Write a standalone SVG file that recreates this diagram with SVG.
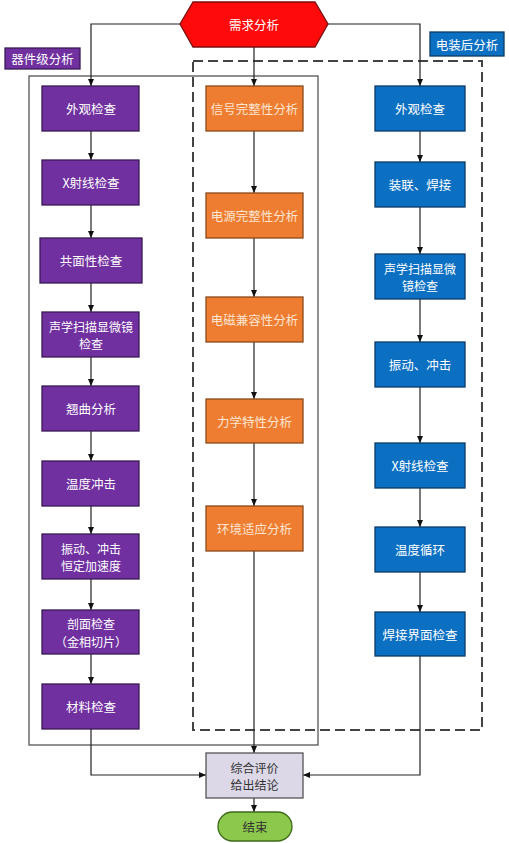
<svg xmlns="http://www.w3.org/2000/svg" width="509" height="843" viewBox="0 0 509 843">
<defs>
<marker id="arr" markerWidth="7" markerHeight="6" refX="7" refY="3" orient="auto" markerUnits="userSpaceOnUse">
<path d="M0,0 L7,3 L0,6 z" fill="#111"/>
</marker>
<style>
text{font-family:"Noto Sans CJK SC","Liberation Sans",sans-serif;font-size:12.5px;text-anchor:middle;dominant-baseline:central}
text.two{font-size:12px}
.p{fill:#7030a0;stroke:#3a1a55;stroke-width:1.3}
.o{fill:#ee7d31;stroke:#8a4a1a;stroke-width:1.3}
.b{fill:#0b6fc2;stroke:#0a3a66;stroke-width:1.3}
.w{fill:#ffffff}
.ot{fill:#fde6d2}
.c{fill:none;stroke:#222;stroke-width:1.2}
</style>
</defs>
<rect width="509" height="843" fill="#ffffff"/>
<g id="frames">
<rect x="29" y="76" width="289" height="669" fill="none" stroke="#555" stroke-width="1.3"/>
<rect x="193" y="61" width="289" height="669" fill="none" stroke="#444" stroke-width="2" stroke-dasharray="10 5"/>
</g>
<g id="connectors">
<path class="c" d="M180,24 H91 V86" marker-end="url(#arr)"/>
<path class="c" d="M254,47 V86" marker-end="url(#arr)"/>
<path class="c" d="M328,24 H420 V86" marker-end="url(#arr)"/>
<path class="c" d="M91,131 V160" marker-end="url(#arr)"/>
<path class="c" d="M91,205 V238" marker-end="url(#arr)"/>
<path class="c" d="M91,283 V312" marker-end="url(#arr)"/>
<path class="c" d="M91,357 V386" marker-end="url(#arr)"/>
<path class="c" d="M91,431 V461" marker-end="url(#arr)"/>
<path class="c" d="M91,506 V534" marker-end="url(#arr)"/>
<path class="c" d="M91,579 V610" marker-end="url(#arr)"/>
<path class="c" d="M91,654 V684" marker-end="url(#arr)"/>
<path class="c" d="M91,729 V775 H206" marker-end="url(#arr)"/>
<path class="c" d="M254,131 V193" marker-end="url(#arr)"/>
<path class="c" d="M254,238 V297" marker-end="url(#arr)"/>
<path class="c" d="M254,342 V399" marker-end="url(#arr)"/>
<path class="c" d="M254,443 V506" marker-end="url(#arr)"/>
<path class="c" d="M254,551 V753" marker-end="url(#arr)"/>
<path class="c" d="M420,131 V162" marker-end="url(#arr)"/>
<path class="c" d="M420,207 V254" marker-end="url(#arr)"/>
<path class="c" d="M420,299 V342" marker-end="url(#arr)"/>
<path class="c" d="M420,387 V443" marker-end="url(#arr)"/>
<path class="c" d="M420,488 V527" marker-end="url(#arr)"/>
<path class="c" d="M420,572 V612" marker-end="url(#arr)"/>
<path class="c" d="M420,656 V775 H303" marker-end="url(#arr)"/>
<path class="c" d="M254,798 V812" marker-end="url(#arr)"/>
</g>
<g id="start">
<polygon points="180,24 193,2 315,2 328,24 315,47 193,47" fill="#ff0a0a" stroke="#7a1010" stroke-width="1.3"/>
<text x="254" y="24" class="w">需求分析</text>
</g>
<g id="label-device">
<rect x="5" y="48" width="75" height="21" class="p"/>
<text x="42.5" y="58.5" class="w">器件级分析</text>
</g>
<g id="label-assembly">
<rect x="430" y="32" width="74" height="24" class="b"/>
<text x="467" y="44" class="w">电装后分析</text>
</g>
<g id="d1"><rect x="42" y="86" width="97" height="45" class="p"/><text x="91" y="108.5" class="w">外观检查</text></g>
<g id="d2"><rect x="42" y="160" width="97" height="45" class="p"/><text x="91" y="182.5" class="w">X射线检查</text></g>
<g id="d3"><rect x="40" y="238" width="102" height="45" class="p"/><text x="91" y="260.5" class="w">共面性检查</text></g>
<g id="d4"><rect x="42" y="312" width="97" height="45" class="p"/><text x="91" y="326" class="w two">声学扫描显微镜<tspan x="91" dy="17">检查</tspan></text></g>
<g id="d5"><rect x="42" y="386" width="97" height="45" class="p"/><text x="91" y="408.5" class="w">翘曲分析</text></g>
<g id="d6"><rect x="42" y="461" width="97" height="45" class="p"/><text x="91" y="483.5" class="w">温度冲击</text></g>
<g id="d7"><rect x="42" y="534" width="97" height="45" class="p"/><text x="91" y="548" class="w two">振动、冲击<tspan x="91" dy="17">恒定加速度</tspan></text></g>
<g id="d8"><rect x="42" y="610" width="97" height="44" class="p"/><text x="91" y="623.5" class="w two">剖面检查<tspan x="91" dy="17">（金相切片）</tspan></text></g>
<g id="d9"><rect x="42" y="684" width="97" height="45" class="p"/><text x="91" y="706.5" class="w">材料检查</text></g>
<g id="m1"><rect x="206" y="86" width="97" height="45" class="o"/><text x="254.5" y="108.5" class="ot">信号完整性分析</text></g>
<g id="m2"><rect x="206" y="193" width="97" height="45" class="o"/><text x="254.5" y="215.5" class="ot">电源完整性分析</text></g>
<g id="m3"><rect x="206" y="297" width="97" height="45" class="o"/><text x="254.5" y="319.5" class="ot">电磁兼容性分析</text></g>
<g id="m4"><rect x="206" y="399" width="97" height="44" class="o"/><text x="254.5" y="421" class="ot">力学特性分析</text></g>
<g id="m5"><rect x="206" y="506" width="97" height="45" class="o"/><text x="254.5" y="528.5" class="ot">环境适应分析</text></g>
<g id="a1"><rect x="375" y="86" width="90" height="45" class="b"/><text x="420" y="108.5" class="w">外观检查</text></g>
<g id="a2"><rect x="375" y="162" width="90" height="45" class="b"/><text x="420" y="184.5" class="w">装联、焊接</text></g>
<g id="a3"><rect x="375" y="254" width="90" height="45" class="b"/><text x="420" y="268" class="w two">声学扫描显微<tspan x="420" dy="17">镜检查</tspan></text></g>
<g id="a4"><rect x="375" y="342" width="90" height="45" class="b"/><text x="420" y="364.5" class="w">振动、冲击</text></g>
<g id="a5"><rect x="375" y="443" width="90" height="45" class="b"/><text x="420" y="465.5" class="w">X射线检查</text></g>
<g id="a6"><rect x="375" y="527" width="90" height="45" class="b"/><text x="420" y="549.5" class="w">温度循环</text></g>
<g id="a7"><rect x="375" y="612" width="90" height="44" class="b"/><text x="420" y="634" class="w">焊接界面检查</text></g>
<g id="eval"><rect x="206" y="753" width="97" height="45" fill="#dcd8e8" stroke="#555" stroke-width="1.3"/><text x="254.5" y="767" fill="#333" class="two">综合评价<tspan x="254.5" dy="17">给出结论</tspan></text></g>
<g id="end"><rect x="218" y="812" width="74" height="29" rx="14.5" fill="#8cc84b" stroke="#3e6a1a" stroke-width="1.3"/><text x="255" y="826.5" fill="#333">结束</text></g>
</svg>
